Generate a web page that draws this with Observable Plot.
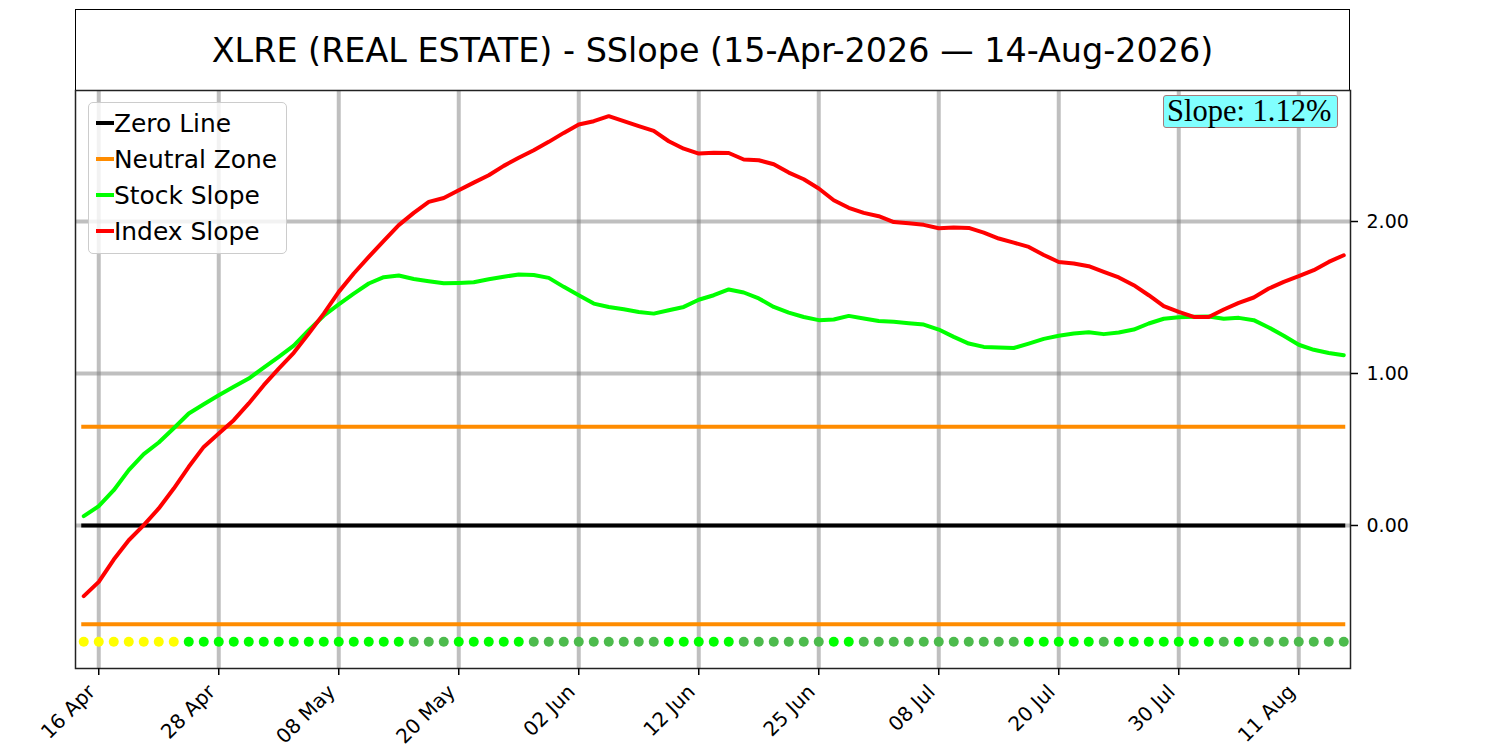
<!DOCTYPE html>
<html>
<head>
<meta charset="utf-8">
<script src="https://cdn.jsdelivr.net/npm/d3@7"></script>
<script src="https://cdn.jsdelivr.net/npm/@observablehq/plot@0.6"></script>
<style>
  html, body { margin: 0; padding: 0; background: #fff; }
  #wrap { position: relative; width: 1500px; height: 750px; font-family: "DejaVu Sans", sans-serif; }
  #titlebox { position: absolute; left: 75px; top: 9px; width: 1275px; height: 81px; box-sizing: border-box;
    border: 1.5px solid #000; border-bottom: none; display: flex; align-items: center; justify-content: center;
    font-size: 33.4px; color: #000; }
  #legend { position: absolute; left: 88px; top: 102px; width: 199px; height: 152px; box-sizing: border-box;
    border: 1.2px solid #cccccc; border-radius: 5px; background: rgba(255,255,255,0.8); }
  .item { position: absolute; left: 7px; height: 30px; display: flex; align-items: center; font-size: 24.9px; color: #000; white-space: nowrap; }
  .swatch { width: 18px; height: 4px; margin-right: 0px; }
  #slope { position: absolute; left: 1163px; top: 95px; width: 175px; height: 33px; box-sizing: border-box;
    background: #80ffff; border: 1.5px solid #a87b7b; border-radius: 3px;
    font-family: "Liberation Serif", "Times New Roman", serif; font-size: 30.5px; line-height: 31px;
    padding-left: 3px; color: #000; white-space: nowrap; }
  svg { position: absolute; left: 0; top: 0; }
</style>
</head>
<body>
<div id="wrap">
  <div id="chart"></div>
  <div id="titlebox"></div>
  <div id="legend"></div>
  <div id="slope"></div>
</div>
<script>
// ---- data ----
const title = "XLRE (REAL ESTATE) - SSlope (15-Apr-2026 \u2014 14-Aug-2026)";
const slopeLabel = "Slope: 1.12%";

// Stock slope (green), one value per trading day, 15-Apr-2026 .. 14-Aug-2026
const stockSlope = [
  0.061, 0.127, 0.232, 0.364, 0.469, 0.546, 0.640, 0.737, 0.798, 0.857,
  0.912, 0.967, 1.039, 1.110, 1.184, 1.285, 1.380, 1.455, 1.526, 1.592,
  1.634, 1.645, 1.622, 1.607, 1.594, 1.596, 1.600, 1.620, 1.636, 1.652,
  1.648, 1.629, 1.570, 1.515, 1.460, 1.438, 1.423, 1.405, 1.394, 1.416,
  1.438, 1.485, 1.515, 1.553, 1.533, 1.494, 1.438, 1.401, 1.372, 1.351,
  1.355, 1.379, 1.362, 1.346, 1.340, 1.331, 1.322, 1.289, 1.241, 1.197,
  1.175, 1.171, 1.168, 1.197, 1.228, 1.248, 1.263, 1.272, 1.259, 1.270,
  1.289, 1.329, 1.360, 1.370, 1.373, 1.375, 1.360, 1.366, 1.351, 1.303,
  1.248, 1.189, 1.156, 1.135, 1.120
];

// Index slope (red)
const indexSlope = [
  -0.465, -0.371, -0.224, -0.097, 0.002, 0.112, 0.243, 0.386, 0.517, 0.605,
  0.693, 0.803, 0.923, 1.032, 1.136, 1.263, 1.394, 1.537, 1.658, 1.767,
  1.873, 1.976, 2.057, 2.129, 2.155, 2.206, 2.256, 2.304, 2.366, 2.419,
  2.469, 2.524, 2.583, 2.638, 2.660, 2.693, 2.660, 2.627, 2.596, 2.528,
  2.479, 2.447, 2.453, 2.451, 2.408, 2.403, 2.377, 2.322, 2.278, 2.217,
  2.140, 2.090, 2.057, 2.035, 1.996, 1.989, 1.978, 1.956, 1.960, 1.958,
  1.927, 1.888, 1.861, 1.833, 1.780, 1.734, 1.724, 1.706, 1.669, 1.632,
  1.581, 1.515, 1.443, 1.405, 1.372, 1.372, 1.421, 1.465, 1.500, 1.559,
  1.603, 1.640, 1.680, 1.734, 1.778
];

// Status dots along the bottom: N = in neutral zone, U = slope rising, D = slope falling
const dotStatus = (
  "NNNNNNN" + "UUUUUUUUUUUUUUU" + "DDD" + "UUUUU" + "DDDDDDDDD" + "UUUUU" +
  "DDDDDD" + "UU" + "DDDDDDDDDDD" + "UUUUU" + "D" + "UUUUUUU" + "D" + "U" + "DDDDDDD"
).split("");
const statusColors = { N: "#ffff00", U: "#00ff00", D: "#4cbb4c" };
const dotLevel = -0.765;

const neutralZone = 0.65;
const yTicks = [0, 1, 2];
const gridY = [0, 1, 2];

// x tick positions (trading-day index) and labels
const tickIdx = [1, 9, 17, 25, 33, 41, 49, 57, 65, 73, 81];
const tickLabels = ["16 Apr", "28 Apr", "08 May", "20 May", "02 Jun", "12 Jun",
                    "25 Jun", "08 Jul", "20 Jul", "30 Jul", "11 Aug"];

const legendItems = [
  { label: "Zero Line", color: "#000000" },
  { label: "Neutral Zone", color: "#ff8c00" },
  { label: "Stock Slope", color: "#00ff00" },
  { label: "Index Slope", color: "#ff0000" }
];

// ---- chart ----
const n = stockSlope.length;
const dotData = dotStatus.map((s, i) => ({ i, s }));
const gridStyle = { stroke: "#808080", strokeOpacity: 0.5, strokeWidth: 4 };

const chart = Plot.plot({
  width: 1500,
  height: 750,
  marginLeft: 75,
  marginRight: 150,
  marginTop: 90,
  marginBottom: 82,
  style: { fontFamily: "DejaVu Sans, sans-serif", color: "#000", background: "transparent" },
  x: { domain: [-0.55, n - 1 + 0.45], axis: null },
  y: { domain: [-0.941, 2.862], axis: null },
  marks: [
    Plot.ruleX(tickIdx, gridStyle),
    Plot.ruleY(gridY, gridStyle),
    Plot.ruleY([0], { x1: 0, x2: n - 1, stroke: "#000", strokeWidth: 4, strokeLinecap: "square" }),
    Plot.ruleY([neutralZone, -neutralZone], { x1: 0, x2: n - 1, stroke: "#ff8c00", strokeWidth: 4, strokeLinecap: "square" }),
    Plot.line(stockSlope, { x: (d, i) => i, y: d => d, stroke: "#00ff00", strokeWidth: 4 }),
    Plot.line(indexSlope, { x: (d, i) => i, y: d => d, stroke: "#ff0000", strokeWidth: 4 }),
    Plot.dot(dotData, { x: "i", y: () => dotLevel, r: 5, fill: d => statusColors[d.s], stroke: "none" }),
    Plot.frame({ stroke: "#222", strokeWidth: 1.5 }),
    Plot.axisY({ anchor: "right", ticks: yTicks, tickFormat: d3.format(".2f"), tickSize: 7, tickPadding: 9,
                 fontSize: 19, label: null, strokeWidth: 1.5 }),
    Plot.axisX({ ticks: tickIdx, tickFormat: null, text: null, tickSize: 7, label: null, strokeWidth: 1.5 }),
    Plot.axisX({ ticks: tickIdx, tickFormat: d => tickLabels[tickIdx.indexOf(d)], tickRotate: -45,
                 tickSize: 0, tickPadding: 11, fontSize: 20, label: null, dx: -7, dy: 9 })
  ]
});
document.getElementById("chart").appendChild(chart);

document.getElementById("titlebox").textContent = title;
document.getElementById("slope").textContent = slopeLabel;

const legend = document.getElementById("legend");
legendItems.forEach((it, k) => {
  const row = document.createElement("div");
  row.className = "item";
  row.style.top = (5 + k * 36) + "px";
  const sw = document.createElement("span");
  sw.className = "swatch";
  sw.style.background = it.color;
  const tx = document.createElement("span");
  tx.textContent = it.label;
  row.appendChild(sw);
  row.appendChild(tx);
  legend.appendChild(row);
});
</script>
</body>
</html>
